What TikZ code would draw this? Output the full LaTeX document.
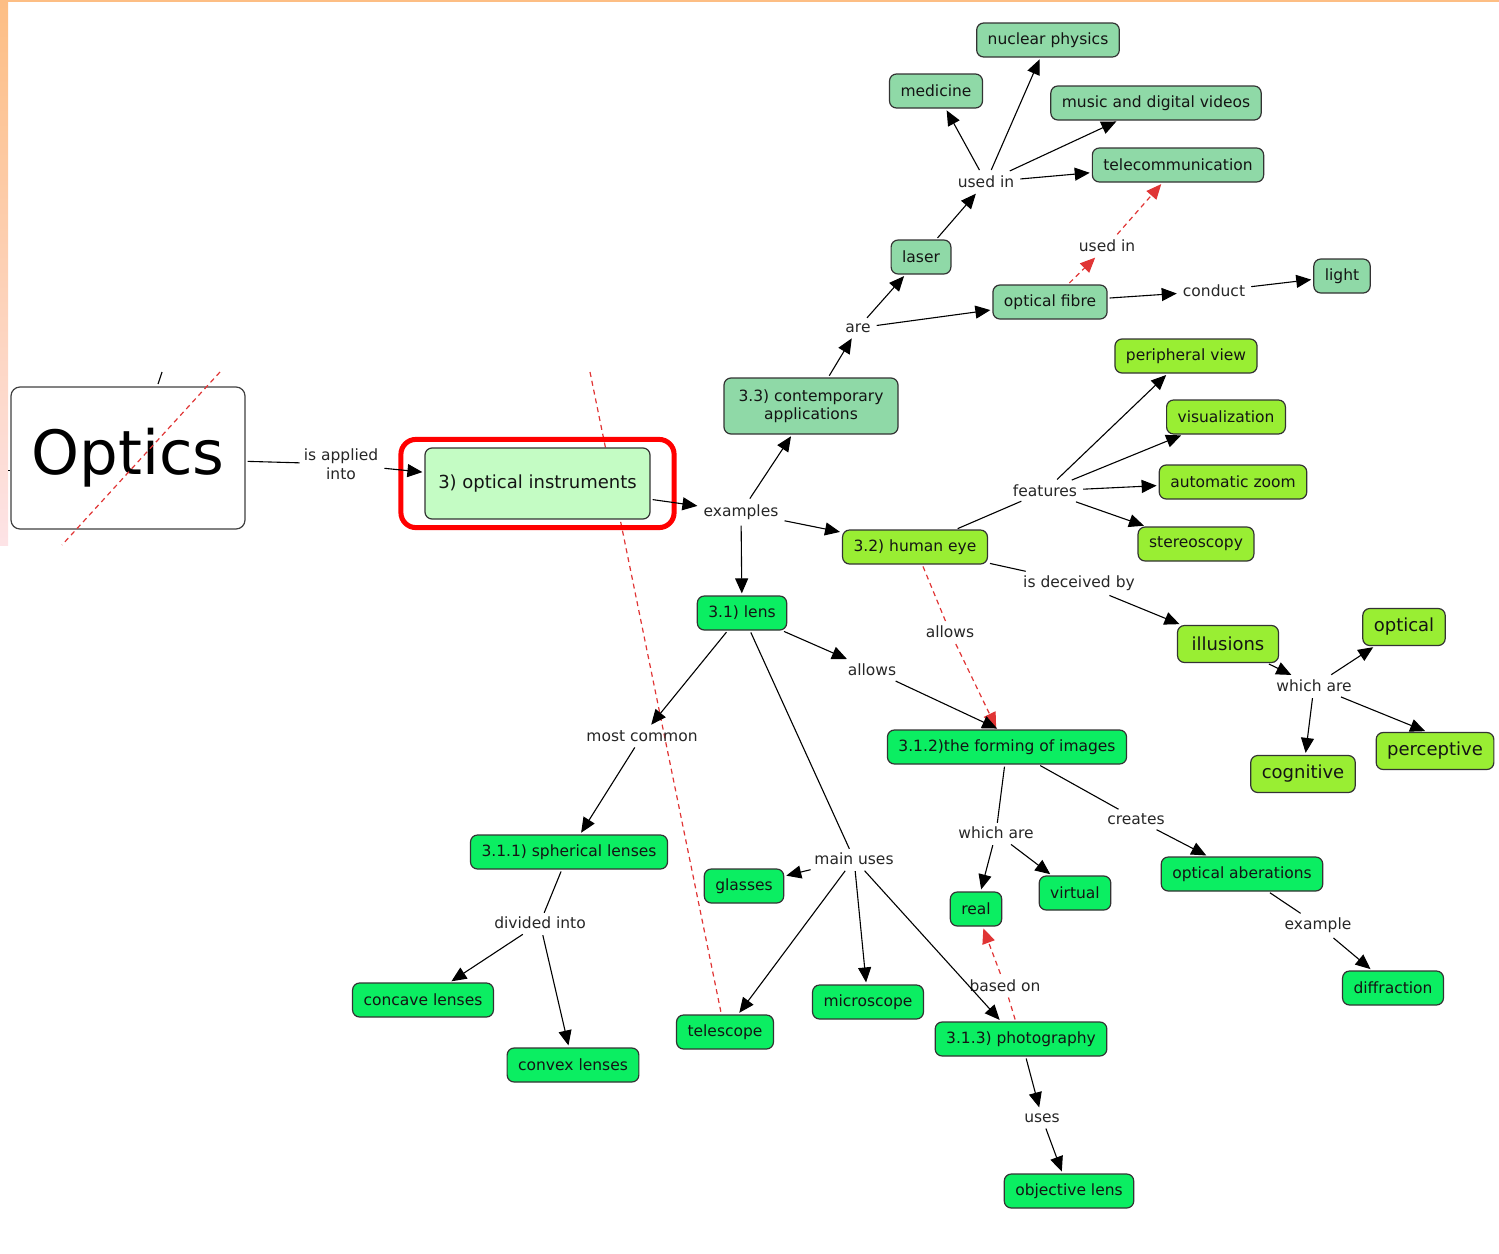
\documentclass[tikz,border=0pt]{standalone}
\usepackage{fontspec}
\setmainfont{DejaVu Sans}
\usetikzlibrary{arrows.meta,fit}
\definecolor{appg}{HTML}{8FD9A7}
\definecolor{eyeg}{HTML}{99EE33}
\definecolor{lensg}{HTML}{0BEE62}
\definecolor{instg}{HTML}{C4FCC4}
\definecolor{dashred}{HTML}{E03535}
\definecolor{topor}{HTML}{FDBE84}
\definecolor{botpink}{HTML}{FDE3E6}
\pgfdeclarelayer{bg}
\pgfsetlayers{bg,main}
\begin{document}
\begin{tikzpicture}[x=1pt,y=-1pt,
  concept/.style={draw=black!80, line width=1.2pt, rounded corners=7pt, minimum height=34pt,
    inner xsep=11pt, inner ysep=4pt, font=\fontsize{15.5}{18.5}\selectfont, text=black!92, align=center},
  app/.style={concept, fill=appg},
  eye/.style={concept, fill=eyeg},
  lens/.style={concept, fill=lensg},
  big/.style={font=\fontsize{18}{21}\selectfont, minimum height=37pt},
  link/.style={inner sep=4pt, font=\fontsize{15.5}{19}\selectfont, text=black!85, align=center},
  ln/.style={line width=1.1pt, shorten <=2pt},
  arr/.style={ln, -{Triangle[length=15pt,width=13pt]}, shorten >=2pt},
  rdash/.style={draw=dashred, line width=1.2pt, dash pattern=on 5pt off 4pt},
  rarr/.style={rdash, -{Triangle[length=15pt,width=13pt]}, shorten >=2pt, shorten <=2pt},
]
\useasboundingbox (0,0) rectangle (1499,1253);
% frame decorations
\shade[top color=topor, bottom color=botpink] (0,0) rectangle (8,545);
\fill[topor] (0,0) rectangle (1499,2);

% ---------- nodes ----------
\node[draw=black!75, line width=1.2pt, fill=white, rounded corners=9pt, minimum width=234pt, minimum height=142pt,
      font=\fontsize{61}{70}\selectfont, text=black] (optics) at (128,458) {Optics};
\node[concept, fill=instg, font=\fontsize{18}{22}\selectfont, minimum width=225pt, minimum height=71pt] (inst) at (537.5,483.5) {3) optical instruments};
\node[fit=(inst), inner xsep=23.5pt, inner ysep=8pt, draw=red, line width=5pt, rounded corners=15pt] (hl) {};
\node[link] (applied) at (341,464) {is applied\\into};
\node[link] (examples) at (741,512) {examples};

\node[app, minimum width=174pt, minimum height=56pt] (contemp) at (811,406) {3.3) contemporary\\applications};
\node[link] (are) at (858,328) {are};
\node[app] (laser) at (921,257) {laser};
\node[app] (fibre) at (1050,302) {optical fibre};
\node[link] (usedin1) at (986,182) {used in};
\node[app] (medicine) at (936,91) {medicine};
\node[app] (nuclear) at (1048,40) {nuclear physics};
\node[app] (music) at (1156,103) {music and digital videos};
\node[app] (telecom) at (1178,165) {telecommunication};
\node[link] (usedin2) at (1107,246) {used in};
\node[link] (conduct) at (1214,291) {conduct};
\node[app] (light) at (1342,276) {light};

\node[eye] (eye) at (915,547) {3.2) human eye};
\node[link] (features) at (1045,491) {features};
\node[eye] (periph) at (1186,356) {peripheral view};
\node[eye] (visual) at (1226,417) {visualization};
\node[eye] (zoom) at (1233,482) {automatic zoom};
\node[eye] (stereo) at (1196,544) {stereoscopy};
\node[link] (deceived) at (1079,583) {is deceived by};
\node[eye,big, minimum width=101pt] (illusions) at (1228,644) {illusions};
\node[link] (whichare1) at (1314,686) {which are};
\node[eye,big] (optical) at (1404,627) {optical};
\node[eye,big] (cognitive) at (1303,774) {cognitive};
\node[eye,big] (perceptive) at (1435,751) {perceptive};
\node[link] (allows1) at (950,632) {allows};

\node[lens] (lens) at (742,613) {3.1) lens};
\node[link] (allows2) at (872,670) {allows};
\node[lens] (forming) at (1007,747) {3.1.2)the forming of images};
\node[link] (common) at (642,736) {most common};
\node[lens] (spherical) at (569,852) {3.1.1) spherical lenses};
\node[link] (mainuses) at (854,859) {main uses};
\node[lens] (glasses) at (744,886) {glasses};
\node[lens] (telescope) at (725,1032) {telescope};
\node[lens] (microscope) at (868,1002) {microscope};
\node[lens] (photo) at (1021,1039) {3.1.3) photography};
\node[link] (divided) at (540,923) {divided into};
\node[lens] (concave) at (423,1000) {concave lenses};
\node[lens] (convex) at (573,1065) {convex lenses};
\node[link] (whichare2) at (996,833) {which are};
\node[lens] (real) at (976,909) {real};
\node[lens] (virtual) at (1075,893) {virtual};
\node[link] (creates) at (1136,819) {creates};
\node[lens] (aber) at (1242,874) {optical aberations};
\node[link] (example) at (1318,925) {example};
\node[lens] (diffraction) at (1393,988) {diffraction};
\node[link] (basedon) at (1005,986) {based on};
\node[link] (uses) at (1042,1118) {uses};
\node[lens] (objective) at (1069,1191) {objective lens};

% ---------- background dashed line ----------
\coordinate (d2) at (590,372);
\begin{pgfonlayer}{bg}
  \draw[rdash] (d2) -- (telescope);
\end{pgfonlayer}

% ---------- connectors ----------
\draw[ln] (optics) -- (applied);
\draw[arr] (applied) -- (inst);
\draw[arr] (inst) -- (examples);
\draw[arr] (examples) -- (contemp);
\draw[arr] (examples) -- (lens);
\draw[arr] (examples) -- (eye);

\draw[arr] (contemp) -- (are);
\draw[arr] (are) -- (laser);
\draw[arr] (are) -- (fibre);
\draw[arr] (laser) -- (usedin1);
\draw[arr] (usedin1) -- (medicine);
\draw[arr] (usedin1) -- (nuclear);
\draw[arr] (usedin1) -- (music);
\draw[arr] (usedin1) -- (telecom);
\draw[arr] (fibre) -- (conduct);
\draw[arr] (conduct) -- (light);
\draw[rarr] (fibre) -- (usedin2);
\draw[rarr] (usedin2) -- (telecom);

\draw[ln] (eye) -- (features);
\draw[arr] (features) -- (periph);
\draw[arr] (features) -- (visual);
\draw[arr] (features) -- (zoom);
\draw[arr] (features) -- (stereo);
\draw[ln] (eye) -- (deceived);
\draw[arr] (deceived) -- (illusions);
\draw[arr] (illusions) -- (whichare1);
\draw[arr] (whichare1) -- (optical);
\draw[arr] (whichare1) -- ([xshift=-8pt]perceptive.north);
\draw[arr] (whichare1) -- (cognitive);
\draw[rdash, shorten <=2pt] (eye) -- (allows1);
\draw[rarr] (allows1) -- ([xshift=-10pt]forming.north);

\draw[arr] (lens) -- (allows2);
\draw[arr] (allows2) -- ([xshift=-8pt]forming.north);
\draw[arr] (lens) -- (common);
\draw[arr] (common) -- (spherical);
\draw[ln] (lens) -- (mainuses);
\draw[arr] (mainuses) -- (glasses);
\draw[arr] (mainuses) -- (telescope);
\draw[arr] (mainuses) -- (microscope);
\draw[arr] (mainuses) -- ([xshift=-20pt]photo.north);
\draw[ln] (spherical) -- (divided);
\draw[arr] (divided) -- (concave);
\draw[arr] (divided) -- (convex);
\draw[ln] (forming) -- (whichare2);
\draw[arr] (whichare2) -- (real);
\draw[arr] (whichare2) -- (virtual);
\draw[ln] (forming) -- (creates);
\draw[arr] (creates) -- (aber);
\draw[ln] (aber) -- (example);
\draw[arr] (example) -- (diffraction);
\draw[arr] (photo) -- (uses);
\draw[arr] (uses) -- (objective);
\draw[rdash, shorten <=2pt] (photo) -- (basedon);
\draw[rarr] (basedon) -- (real);

% ---------- foreground marks over the Optics box ----------
\coordinate (d1a) at (220,372);
\coordinate (d1b) at (62,545);
\draw[rdash] (d1a) -- (d1b);
\coordinate (t1) at (162,372);
\coordinate (t2) at (158,384);
\draw[line width=1.1pt] (t1) -- (t2);
\coordinate (t3) at (8,470);
\coordinate (t4) at (10,470);
\draw[line width=1pt] (t3) -- (t4);
\end{tikzpicture}
\end{document}
